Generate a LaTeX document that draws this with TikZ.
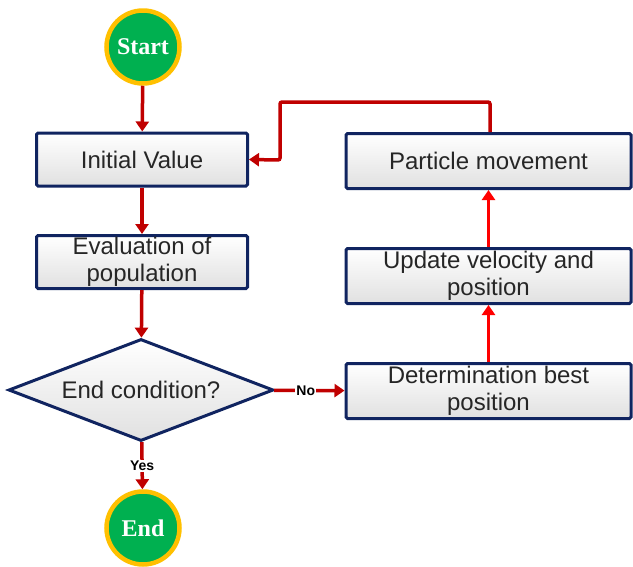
\documentclass[tikz,border=0pt]{standalone}
\usepackage{fontspec}
\setmainfont{Liberation Sans}
\newfontfamily\termfont{Liberation Serif}
\usetikzlibrary{shapes.geometric,arrows.meta}
\definecolor{navy}{RGB}{16,36,96}
\definecolor{darkred}{RGB}{192,0,0}
\definecolor{brightred}{RGB}{255,0,0}
\definecolor{termgreen}{RGB}{0,176,80}
\definecolor{termring}{RGB}{255,192,0}
\tikzset{
  stepbox/.style={draw=navy, line width=3pt, rounded corners=1.5pt,
    top color=white, bottom color=black!12, text=black!85,
    minimum width=211pt, minimum height=53pt, inner sep=0pt, align=center,
    font=\fontsize{24}{27}\selectfont},
  widebox/.style={stepbox, minimum width=285pt, minimum height=55pt},
  decision/.style={diamond, draw=navy, line width=3pt, aspect=2.5,
    top color=white, bottom color=black!12, text=black!85,
    minimum width=265pt, minimum height=102pt, inner sep=0pt,
    font=\fontsize{24}{27}\selectfont},
  terminal/.style={circle, draw=termring, line width=4.5pt, fill=termgreen,
    text=white, minimum size=73pt, inner sep=0pt,
    font=\termfont\bfseries\fontsize{24}{26}\selectfont},
  flow/.style={draw=darkred, line width=3.5pt,
    -{Triangle[length=10pt,width=13pt]}},
  upflow/.style={flow, draw=brightred},
  branch/.style={fill=white, inner sep=1pt, text=black,
    font=\bfseries\fontsize{14}{15}\selectfont}
}
\begin{document}
\begin{tikzpicture}[x=1pt, y=-1pt]
  \useasboundingbox (0,0) rectangle (633,566);

  % left column
  \node[terminal] (start) at (143,47) {Start};
  \node[stepbox] (init) at (142,159.5) {Initial Value};
  \node[stepbox] (eval) at (142,262) {Evaluation of\\population};
  \node[decision] (cond) at (141,390) {End condition?};
  \node[terminal] (end) at (143,528) {End};

  % right column
  \node[widebox] (move) at (488.5,161) {Particle movement};
  \node[widebox] (upd) at (488.5,276) {Update velocity and\\position};
  \node[widebox] (best) at (488.5,391) {Determination best\\position};

  % feedback route
  \coordinate (fbtop) at (490,102);
  \coordinate (fbleft) at (280,102);
  \coordinate (fbdown) at (280,160);

  \draw[flow] (start) -- (init);
  \draw[flow] (init) -- (eval);
  \draw[flow] (eval) -- (cond);
  \draw[flow] (cond) -- node[branch, pos=0.5] {Yes} (end);
  \draw[flow] (cond) -- node[branch, pos=0.45] {No} (best);
  \draw[upflow] (best) -- (upd);
  \draw[upflow] (upd) -- (move);
  \draw[flow, rounded corners=2pt] (move.north -| fbtop) -- (fbtop) -- (fbleft) -- (fbdown) -- (init.east);
\end{tikzpicture}
\end{document}
